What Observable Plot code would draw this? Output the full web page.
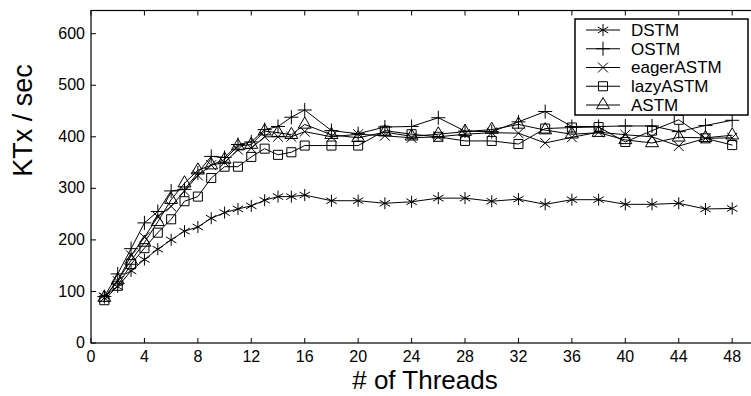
<!DOCTYPE html>
<html><head><meta charset="utf-8">
<script src="https://cdn.jsdelivr.net/npm/d3@7"></script>
<script src="https://cdn.jsdelivr.net/npm/@observablehq/plot@0.6"></script>
<style>
body{margin:0;background:#fff;overflow:hidden}
#chart{position:relative;width:751px;height:396px;overflow:hidden}
#chart svg{overflow:hidden}
</style>
</head><body><div id="chart"></div>
<script>
const threads = [1,2,3,4,5,6,7,8,9,10,11,12,13,14,15,16,18,20,22,24,26,28,30,32,34,36,38,40,42,44,46,48];
const DSTM      = [91,109,140,162,182,200,217,225,242,253,260,266,277,284,284,287,276,276,271,274,281,281,275,279,269,278,278,269,269,271,260,261];
const OSTM      = [90,134,183,233,255,295,298,330,362,360,385,390,414,420,438,452,412,406,419,420,437,411,410,429,449,420,420,421,421,410,422,432];
const eagerASTM = [88,120,170,205,245,265,295,325,345,350,375,378,400,400,400,410,400,405,402,398,400,405,408,407,388,399,409,404,400,382,397,398];
const lazyASTM  = [83,111,153,184,214,240,275,284,320,342,342,361,377,365,370,383,383,383,412,405,400,392,392,386,416,418,419,390,412,433,397,384];
const ASTM      = [88,122,160,195,235,278,310,335,345,356,382,385,411,408,404,424,404,398,409,401,405,410,414,424,413,405,408,394,388,399,398,403];
const seriesNames = ["DSTM","OSTM","eagerASTM","lazyASTM","ASTM"];
const seriesValues = [DSTM, OSTM, eagerASTM, lazyASTM, ASTM];
const xTicks = [0,4,8,12,16,20,24,28,32,36,40,44,48];
const yTicks = [0,100,200,300,400,500,600];
const xLabel = "# of Threads";
const yLabel = "KTx / sec";

const symbolOf = {DSTM:"asterisk", OSTM:"plus", eagerASTM:"times", lazyASTM:"square", ASTM:"triangle"};
const radiusOf = {DSTM:5.7, OSTM:4.6, eagerASTM:4.6, lazyASTM:5.1, ASTM:4.8};

const rows = seriesNames.flatMap((name, i) =>
  threads.map((t, j) => ({series: name, threads: t, value: seriesValues[i][j]})));

const font = "'Liberation Sans', Arial, Helvetica, sans-serif";

// layout
const W = 751, H = 396, mL = 90.5, mR = -7.4, mT = 10, mB = 53.5;
const xDomain = [0, 50], yDomain = [0, 645];
const tickPx = 5;
const tickX = tickPx * (xDomain[1] - xDomain[0]) / (W - mL - mR); // inward tick length in x units
const tickY = tickPx * (yDomain[1] - yDomain[0]) / (H - mT - mB); // inward tick length in y units

const marks = [];
for (const name of seriesNames) {
  const d = rows.filter(r => r.series === name);
  marks.push(Plot.line(d, {x: "threads", y: "value", stroke: "black", strokeWidth: 1}));
}
for (const name of seriesNames) {
  const d = rows.filter(r => r.series === name);
  marks.push(Plot.dot(d, {x: "threads", y: "value", symbol: () => symbolOf[name], r: radiusOf[name], stroke: "black", fill: "none", strokeWidth: 1}));
}

const plot = Plot.plot({
  width: W, height: H,
  marginLeft: mL, marginRight: mR, marginTop: mT, marginBottom: mB,
  style: {fontFamily: font, fontSize: "16px", color: "black", background: "white"},
  x: {domain: xDomain},
  y: {domain: yDomain},
  marks: [
    Plot.frame({stroke: "black", strokeWidth: 1.2}),
    Plot.axisX(xTicks, {tickSize: 0, tickPadding: 8, fontSize: 16, label: null}),
    Plot.axisY(yTicks, {tickSize: 0, tickPadding: 6, fontSize: 16, label: null}),
    // inward ticks (bottom, top, left)
    Plot.link(xTicks, {x1: d => d, x2: d => d, y1: yDomain[0], y2: yDomain[0] + tickY, stroke: "black"}),
    Plot.link(xTicks, {x1: d => d, x2: d => d, y1: yDomain[1], y2: yDomain[1] - tickY, stroke: "black"}),
    Plot.link(yTicks, {y1: d => d, y2: d => d, x1: xDomain[0], x2: xDomain[0] + tickX, stroke: "black"}),
    ...marks,
    Plot.text([xLabel], {frameAnchor: "bottom", lineAnchor: "middle", dy: 38, text: d => d, fontSize: 26, fill: "black"}),
    Plot.text([yLabel], {frameAnchor: "left", dx: -68, rotate: -90, text: d => d, fontSize: 27, fill: "black"})
  ]
});
document.getElementById("chart").appendChild(plot);

// legend
const svg = d3.select(plot);
const lg = svg.append("g").attr("font-family", font).attr("font-size", 17).attr("text-anchor", "start");
const bx = 575, by = 19, bw = 173, bh = 96, rowH = 18.75, first = 30;
lg.append("rect").attr("x", bx).attr("y", by).attr("width", bw).attr("height", bh)
  .attr("fill", "white").attr("stroke", "black").attr("stroke-width", 1.5);
seriesNames.forEach((name, i) => {
  const y = first + i * rowH;
  lg.append("line").attr("x1", 586).attr("x2", 620).attr("y1", y).attr("y2", y).attr("stroke", "black");
  const r = radiusOf[name];
  const sym = {asterisk: d3.symbolAsterisk, plus: d3.symbolPlus, times: d3.symbolTimes, square: d3.symbolSquare, triangle: d3.symbolTriangle}[symbolOf[name]];
  lg.append("path").attr("transform", `translate(603,${y})`)
    .attr("d", d3.symbol(sym, r * r * Math.PI)()).attr("fill", "none").attr("stroke", "black");
  lg.append("text").attr("x", 631).attr("y", y).attr("dy", "0.35em").attr("text-anchor", "start").attr("fill", "black").text(name);
});
</script>
</body></html>
